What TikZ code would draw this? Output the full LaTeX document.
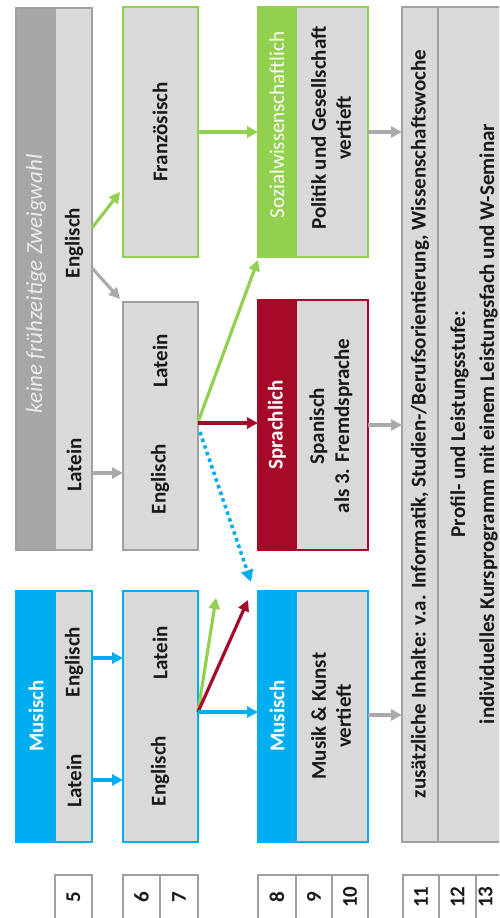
\documentclass[tikz,border=0pt]{standalone}
\usepackage{fontspec}
\setmainfont{Carlito}
\usetikzlibrary{arrows.meta,calc}
\definecolor{cyanM}{RGB}{0,174,239}
\definecolor{greenM}{RGB}{146,208,80}
\definecolor{redM}{RGB}{165,10,40}
\definecolor{fillL}{RGB}{217,217,217}
\definecolor{hdrG}{RGB}{166,166,166}
\definecolor{bordG}{RGB}{160,160,160}
\definecolor{arrG}{RGB}{170,170,170}
\definecolor{hdrTxt}{RGB}{235,235,235}
\definecolor{txtK}{RGB}{25,25,25}
\begin{document}
\begin{tikzpicture}[x=1pt,y=-1pt,
  boxshape/.style={anchor=north west,inner sep=0pt,outer sep=0pt,fill=fillL},
  gradebox/.style={anchor=north west,inner sep=0pt,outer sep=0pt,fill=white,draw=bordG,line width=1.6pt},
  bord/.style={line width=1.8pt},
  tx/.style={rotate=90,font=\fontsize{21}{25}\selectfont\bfseries,text=txtK,align=center,inner sep=0pt},
  hd/.style={rotate=90,font=\fontsize{21}{25}\selectfont\bfseries,text=white,inner sep=0pt},
  arr/.style={line width=3.2pt,-{Triangle[length=11pt,width=11pt]}},
  ]
\useasboundingbox (0,0) rectangle (499,918);
\clip (0,0) rectangle (499,918);

% ---------- column 1 (grade 5)
\node[boxshape,minimum width=76pt,minimum height=542pt] (grayA) at (16,8) {};
\fill[hdrG] (grayA.north west) rectangle ($(grayA.south west)+(40,0)$);
\draw[bord,draw=bordG] (grayA.north west) rectangle (grayA.south east);
\node[rotate=90,font=\fontsize{23}{27}\selectfont\itshape,text=hdrTxt,inner sep=0pt] (tGA) at (36,284) {keine frühzeitige Zweigwahl};
\node[tx] (tGAe) at (74,243) {Englisch};
\node[tx] (tGAl) at (74,465) {Latein};

\node[boxshape,minimum width=76pt,minimum height=251pt] (blueA) at (16,591) {};
\fill[cyanM] (blueA.north west) rectangle ($(blueA.south west)+(40,0)$);
\draw[bord,draw=cyanM] (blueA.north west) rectangle (blueA.south east);
\node[hd] (tBA) at (36,716) {Musisch};
\node[tx] (tBAe) at (74,662) {Englisch};
\node[tx] (tBAl) at (74,781) {Latein};

% ---------- column 2 (grades 6-7)
\node[boxshape,minimum width=75pt,minimum height=250pt,draw=greenM,line width=1.8pt] (franz) at (123,7) {};
\node[tx] (tFr) at (160,132) {Französisch};

\node[boxshape,minimum width=75pt,minimum height=248pt,draw=bordG,line width=1.8pt] (grayB) at (123,302) {};
\node[tx] (tGBl) at (160,361) {Latein};
\node[tx] (tGBe) at (160,479) {Englisch};

\node[boxshape,minimum width=75pt,minimum height=251pt,draw=cyanM,line width=1.8pt] (blueB) at (123,591) {};
\node[tx] (tBBl) at (160,653) {Latein};
\node[tx] (tBBe) at (160,771) {Englisch};

% ---------- column 3 (grades 8-10)
\node[boxshape,minimum width=110pt,minimum height=250pt] (sozi) at (258,7) {};
\fill[greenM] (sozi.north west) rectangle ($(sozi.south west)+(39,0)$);
\draw[bord,draw=greenM] (sozi.north west) rectangle (sozi.south east);
\node[rotate=90,font=\fontsize{21}{25}\selectfont,text=white,inner sep=0pt] (tSoH) at (277,125) {Sozialwissenschaftlich};
\node[tx] (tSo) at (331,128) {Politik und Gesellschaft\\vertieft};

\node[boxshape,minimum width=110pt,minimum height=250pt] (sprach) at (258,300) {};
\fill[redM] (sprach.north west) rectangle ($(sprach.south west)+(39,0)$);
\draw[bord,draw=redM] (sprach.north west) rectangle (sprach.south east);
\node[hd] (tSpH) at (277,425) {Sprachlich};
\node[tx] (tSp) at (331,426) {Spanisch\\als 3. Fremdsprache};

\node[boxshape,minimum width=110pt,minimum height=251pt] (musik) at (258,591) {};
\fill[cyanM] (musik.north west) rectangle ($(musik.south west)+(39,0)$);
\draw[bord,draw=cyanM] (musik.north west) rectangle (musik.south east);
\node[hd] (tMuH) at (277,716) {Musisch};
\node[tx] (tMu) at (331,716) {Musik \& Kunst\\vertieft};

% ---------- column 4 (grades 11-13)
\node[boxshape,minimum width=110pt,minimum height=835pt,draw=bordG,line width=1.8pt] (ober) at (402,7) {};
\draw[bord,draw=bordG] ($(ober.north west)+(36,0)$) -- ($(ober.south west)+(36,0)$);
\node[tx] (tOb1) at (420,424) {zusätzliche Inhalte: v.a. Informatik, Studien-/Berufsorientierung, Wissenschaftswoche};
\node[tx] (tOb2) at (474,424) {Profil- und Leistungsstufe:\\[4pt]individuelles Kursprogramm mit einem Leistungsfach und W-Seminar};

% ---------- grade boxes
\foreach \nm/\x/\w/\t/\d in {g5/55/37/5/0, g6/123/37/6/0, g7/160/38/7/0, g8/258/38/8/0, g9/296/36/9/0, g10/332/36/10/0, g11/403/36/11/0, g12/439/37/12/0, g13/476/37/13/-9}{
  \node[gradebox,minimum width=\w pt,minimum height=44pt] (\nm) at (\x,875) {};
  \node[tx] at ($(\nm.center)+(\d,0)$) {\t};
}

% ---------- connectors
\coordinate (eFr1) at (120,192);
\coordinate (eGB1) at (120,299);
\coordinate (eSo1) at (258,260);
\coordinate (eMuD) at (251,582);
\coordinate (eGr2) at (216,598);
\coordinate (eRd2) at (248,600);

\draw[arr,greenM] (grayA.east |- 0,228) -- (eFr1);
\draw[arr,arrG] (grayA.east |- 0,268) -- (eGB1);
\draw[arr,arrG] (grayA.east |- 0,473) -- (grayB.west |- 0,473);

\draw[arr,greenM] (franz.east |- 0,132) -- (sozi.west |- 0,132);

\draw[arr,greenM] (grayB.east |- 0,422) -- (eSo1);
\draw[arr,redM] (grayB.east |- 0,423) -- (sprach.west |- 0,423);
\draw[line width=3.5pt,cyanM,dash pattern=on 3.5pt off 3.5pt,-{Triangle[length=12pt,width=12pt]}] ($(grayB.east |- 0,432)+(2,0)$) -- (eMuD);

\draw[arr,cyanM] (blueA.east |- 0,658) -- (blueB.west |- 0,658);
\draw[arr,cyanM] (blueA.east |- 0,780) -- (blueB.west |- 0,780);

\draw[arr,greenM] (blueB.east |- 0,712) -- (eGr2);
\draw[arr,redM] (blueB.east |- 0,712) -- (eRd2);
\draw[arr,cyanM] (blueB.east |- 0,712) -- (musik.west |- 0,712);

\draw[arr,arrG] (sozi.east |- 0,132) -- (ober.west |- 0,132);
\draw[arr,arrG] (sprach.east |- 0,425) -- (ober.west |- 0,425);
\draw[arr,arrG] (musik.east |- 0,715) -- (ober.west |- 0,715);
\end{tikzpicture}
\end{document}
